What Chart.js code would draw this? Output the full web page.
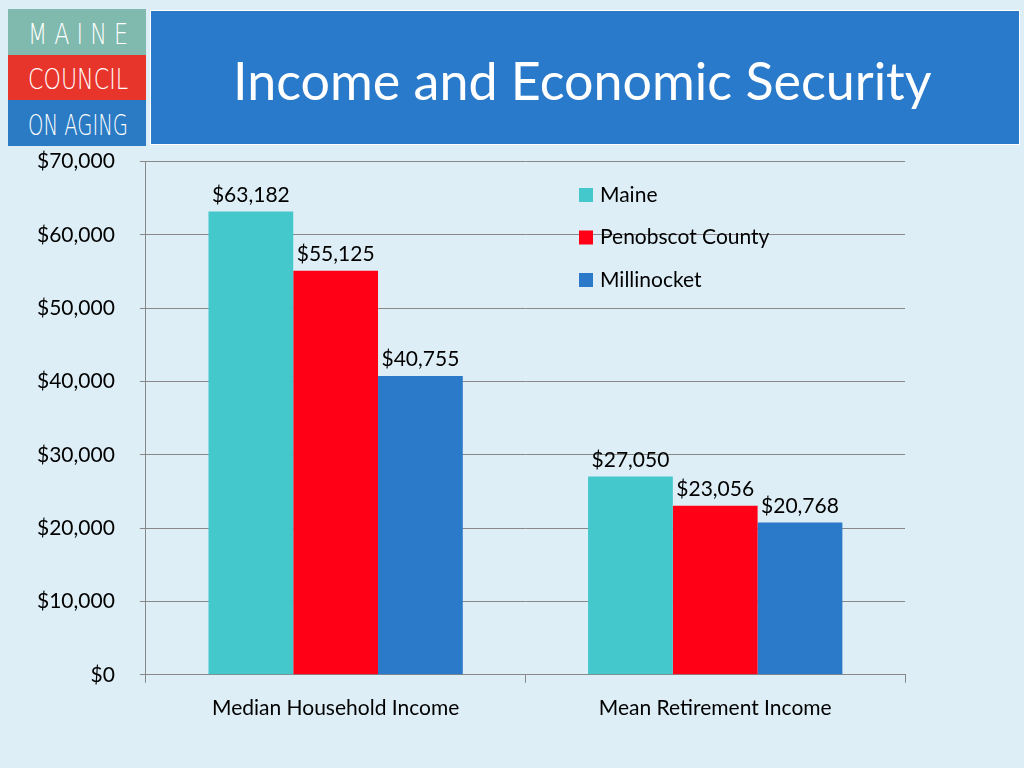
<!DOCTYPE html>
<html><head><meta charset="utf-8">
<script src="https://cdn.jsdelivr.net/npm/chart.js@4"></script>
<style>
body{margin:0;width:1024px;height:768px;background:#ddeef6;font-family:Lato,sans-serif;position:relative;overflow:hidden}
#logo{position:absolute;left:8px;top:9px;width:138px;height:137px}
#title{position:absolute;left:150px;top:10px;width:870px;height:135px;background:#2a7acb;color:#fff;font-size:52px;box-sizing:border-box;padding-left:82px;line-height:138px;border:1px solid #fff}
#wrap{position:absolute;left:0;top:124px;width:1024px;height:618px}
</style></head><body>
<svg id="logo" viewBox="0 0 138 137">
<rect x="0" y="0" width="138" height="46" fill="#80b9ad"/>
<rect x="0" y="46" width="138" height="45" fill="#e8352b"/>
<rect x="0" y="91" width="138" height="46" fill="#2a7bc4"/>
<g fill="#fff" font-family="DejaVu Sans" font-weight="200" font-size="29">
<text x="20" y="35" textLength="100" lengthAdjust="spacingAndGlyphs">M A I N E</text>
<text x="20" y="80" textLength="100" lengthAdjust="spacingAndGlyphs">COUNCIL</text>
<text x="20" y="126" textLength="100" lengthAdjust="spacingAndGlyphs">ON AGING</text>
</g>
</svg>
<div id="title">Income and Economic Security</div>
<div id="wrap"><canvas id="c"></canvas></div>
<script>
const categories = ['Median Household Income', 'Mean Retirement Income'];
const seriesNames = ['Maine', 'Penobscot County', 'Millinocket'];
const maine = [63182, 27050];
const penobscot = [55125, 23056];
const millinocket = [40755, 20768];
const colors = ['#44c8cc', '#ff0016', '#2b79c9'];

const fmt = v => '$' + v.toLocaleString('en-US');

const labelPlugin = {
    id: 'labels',
    afterDatasetsDraw(chart) {
        const ctx = chart.ctx;
        ctx.save();
        ctx.font = '21px Lato';
        ctx.fillStyle = '#000';
        ctx.textAlign = 'center';
        ctx.textBaseline = 'bottom';
        chart.data.datasets.forEach((ds, i) => {
            chart.getDatasetMeta(i).data.forEach((bar, j) => {
                ctx.fillText(fmt(ds.data[j]), bar.x, bar.y - 6);
            });
        });
        // legend
        ctx.textAlign = 'left';
        ctx.textBaseline = 'middle';
        chart.data.datasets.forEach((ds, i) => {
            const y = 71 + i * 42.5;
            ctx.fillStyle = ds.backgroundColor;
            ctx.fillRect(579, y - 7, 14, 14);
            ctx.fillStyle = '#000';
            ctx.fillText(ds.label, 600, y);
        });
        ctx.restore();
    }
};

new Chart(document.getElementById('c'), {
    type: 'bar',
    data: {
        labels: categories,
        datasets: [
            { label: seriesNames[0], data: maine, backgroundColor: colors[0] },
            { label: seriesNames[1], data: penobscot, backgroundColor: colors[1] },
            { label: seriesNames[2], data: millinocket, backgroundColor: colors[2] }
        ]
    },
    options: {
        responsive: true,
        maintainAspectRatio: false,
        animation: false,
        layout: { padding: { left: 12, right: 119, top: 0, bottom: 8 } },
        datasets: { bar: { categoryPercentage: 0.67, barPercentage: 1 } },
        plugins: { legend: { display: false }, tooltip: { enabled: false } },
        scales: {
            x: {
                grid: { display: true, drawOnChartArea: false, color: '#888', tickLength: 8 },
                border: { color: '#888' },
                ticks: { color: '#000', font: { size: 21, family: 'Lato' }, padding: 13 }
            },
            y: {
                min: 0, max: 70000,
                ticks: { stepSize: 10000, color: '#000', font: { size: 21, family: 'Lato' }, callback: v => fmt(v), padding: 25 },
                grid: { color: '#888', tickLength: 6 },
                border: { color: '#888' }
            }
        }
    },
    plugins: [labelPlugin]
});
</script>
</body></html>
